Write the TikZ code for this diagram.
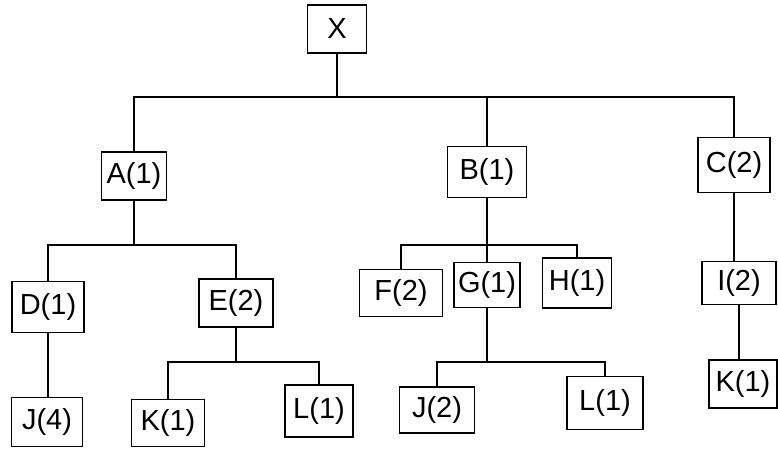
\documentclass[tikz,border=0pt]{standalone}
\usepackage{fontspec}
\setmainfont{Liberation Sans}
\begin{document}
\begin{tikzpicture}[x=1pt,y=-1pt,
  box/.style={draw, line width=1.1pt, inner sep=0pt, minimum width=#1, font=\fontsize{29}{32}\selectfont},
  box/.default=66pt,
  link/.style={line width=1.1pt}]
\useasboundingbox (0,0) rectangle (778,449);
% nodes
\node[box=59pt, minimum height=48pt] (X) at (337,29) {X};
\node[box=65pt, minimum height=48pt] (A) at (134,176) {A(1)};
\node[box=79pt, minimum height=51pt] (B) at (487,172) {B(1)};
\node[box=72pt, minimum height=55pt] (C) at (734,165) {C(2)};
\node[box=72pt, minimum height=51pt] (D) at (48,307) {D(1)};
\node[box=74pt, minimum height=48pt] (E) at (236,303) {E(2)};
\node[box=71pt, minimum height=49pt] (J4) at (47,422) {J(4)};
\node[box=73pt, minimum height=47pt] (K1) at (168,423) {K(1)};
\node[box=68pt, minimum height=52pt] (L1) at (319,411) {L(1)};
\node[box=83pt, minimum height=47pt] (F) at (401,293) {F(2)};
\node[box=66pt, minimum height=45pt] (G) at (487,285) {G(1)};
\node[box=69pt, minimum height=50pt] (H) at (577,283) {H(1)};
\node[box=75pt, minimum height=46pt] (J2) at (437,410) {J(2)};
\node[box=76pt, minimum height=53pt] (L2) at (605,403) {L(1)};
\node[box=74pt, minimum height=43pt] (I) at (739,283) {I(2)};
\node[box=68pt, minimum height=48pt] (K2) at (743,384) {K(1)};
% bus levels
\coordinate (bx) at (337,97);
\coordinate (ba) at (134,245);
\coordinate (bb) at (487,245);
\coordinate (be) at (236,362);
\coordinate (bg) at (487,362);
% connectors
\draw[link] (X.south) -- (bx);
\draw[link] (A.north) -- (A.north |- bx) -- (C.north |- bx) -- (C.north);
\draw[link] (B.north) -- (B.north |- bx);
\draw[link] (A.south) -- (ba);
\draw[link] (D.north) -- (D.north |- ba) -- (E.north |- ba) -- (E.north);
\draw[link] (D.south) -- (D.south |- J4.north);
\draw[link] (E.south) -- (be);
\draw[link] (K1.north) -- (K1.north |- be) -- (L1.north |- be) -- (L1.north);
\draw[link] (B.south) -- (G.north);
\draw[link] (F.north) -- (F.north |- bb) -- (H.north |- bb) -- (H.north);
\draw[link] (G.south) -- (bg);
\draw[link] (J2.north) -- (J2.north |- bg) -- (L2.north |- bg) -- (L2.north);
\draw[link] (C.south) -- (C.south |- I.north);
\draw[link] (I.south) -- (I.south |- K2.north);
\end{tikzpicture}
\end{document}
